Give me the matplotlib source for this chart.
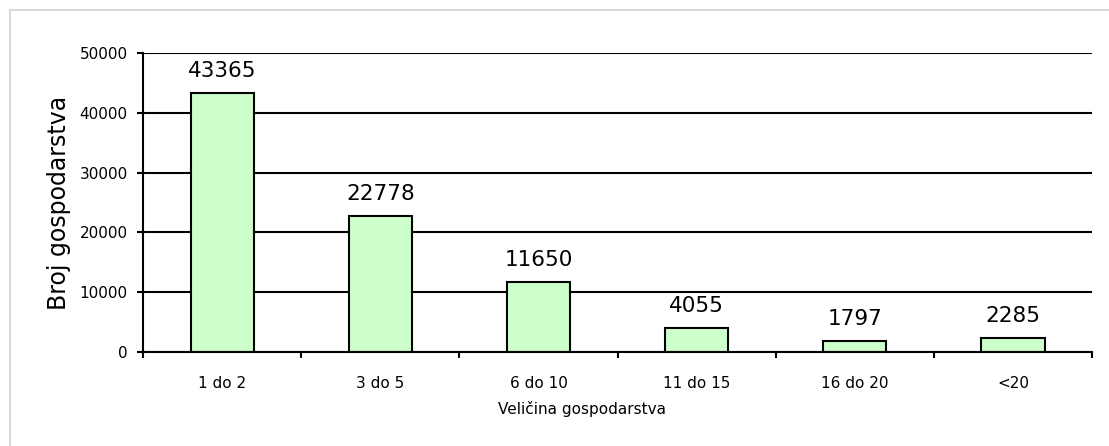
import matplotlib
matplotlib.use("Agg")
import matplotlib.pyplot as plt
from matplotlib.patches import Rectangle

# ---------------------------------------------------------------
# Data
# ---------------------------------------------------------------

categories = ["1 do 2", "3 do 5", "6 do 10", "11 do 15", "16 do 20", "<20"]
counts = [43365, 22778, 11650, 4055, 1797, 2285]
y_ticks = [0, 10000, 20000, 30000, 40000, 50000]

BAR_COLOR = "#CCFFCC"
BORDER_COLOR = "#D9D9D9"

# ---------------------------------------------------------------
# Plot
# ---------------------------------------------------------------

fig = plt.figure(figsize=(11.09, 4.46), dpi=100)
ax = fig.add_axes([0.129, 0.2108, 0.8557, 0.6704])

x = list(range(len(categories)))
ax.bar(x, counts, width=0.4, color=BAR_COLOR, edgecolor="black", linewidth=1.5, zorder=3)

for xi, v in zip(x, counts):
    ax.annotate(str(v), (xi, v), xytext=(0, 15.8), textcoords="offset points",
                ha="center", va="center", fontsize=15.5)

ax.set_xlim(-0.5, len(categories) - 0.5)
ax.set_ylim(0, 50000)
ax.set_yticks(y_ticks)
ax.yaxis.grid(True, color="black", linewidth=1.5, zorder=0)

# category labels at centers, tick marks at boundaries
ax.set_xticks(x)
ax.set_xticklabels(categories, fontsize=11)
ax.tick_params(axis="x", which="major", length=0, pad=17)
ax.set_xticks([i - 0.5 for i in range(len(categories) + 1)], minor=True)
ax.tick_params(axis="x", which="minor", length=4, width=1.5, direction="out")
ax.tick_params(axis="y", length=4, width=1.5, pad=7, labelsize=11)

for side in ["top", "right"]:
    ax.spines[side].set_visible(False)
ax.spines["left"].set_linewidth(1.5)
ax.spines["bottom"].set_linewidth(1.5)
ax.spines["bottom"].set_zorder(4)

ax.set_ylabel("Broj gospodarstva", fontsize=17)
ax.yaxis.set_label_coords(-0.076, 0.5)
ax.set_xlabel("Veli\u010dina gospodarstva", fontsize=11)
ax.xaxis.set_label_coords(0.4626, -0.165)

# light gray outer frame
fig.patches.append(Rectangle((10 / 1109, -0.1), 1.2, 1 - 10 / 446 + 0.1,
                             transform=fig.transFigure, fill=False,
                             edgecolor=BORDER_COLOR, linewidth=1.5))

fig.savefig("out.png", dpi=100)
